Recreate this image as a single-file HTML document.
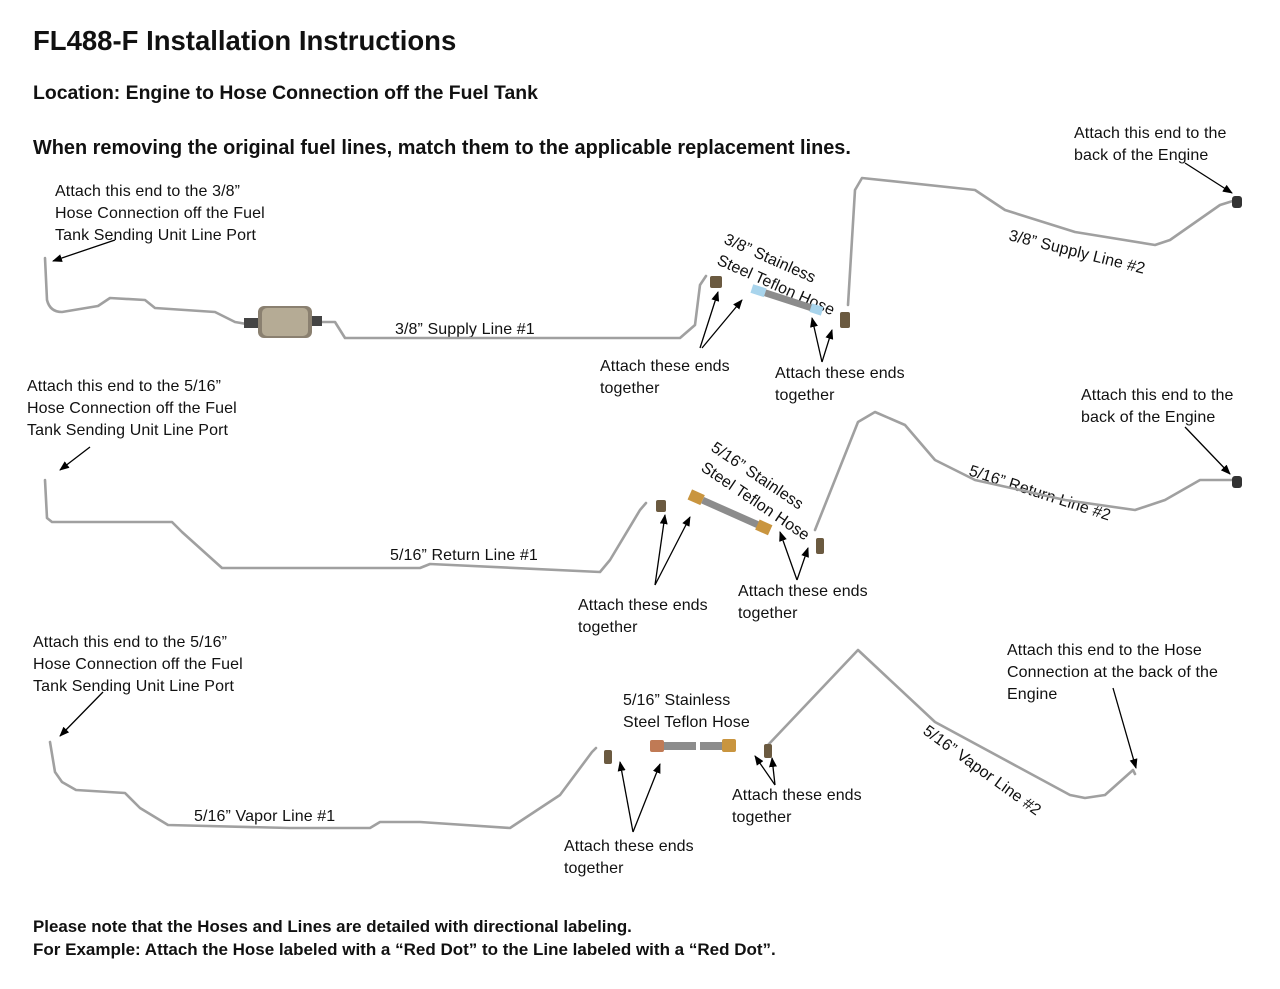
<!DOCTYPE html>
<html><head><meta charset="utf-8"><style>
body{margin:0;background:#fff}
svg{display:block}
text{font-family:"Liberation Sans",sans-serif;fill:#111}
.t{font-size:16px;letter-spacing:0.1px}
.b{font-weight:bold}
.ln{fill:none;stroke:#a0a0a0;stroke-width:2.6;stroke-linejoin:round;stroke-linecap:round}
.ar{stroke:#000;stroke-width:1.3;fill:none;marker-end:url(#a)}
</style></head><body>
<svg width="1280" height="989" viewBox="0 0 1280 989">
<defs><marker id="a" markerWidth="10" markerHeight="8" refX="9" refY="4" orient="auto" markerUnits="userSpaceOnUse"><path d="M0,0L10,4L0,8z" fill="#000"/></marker></defs>
<text x="33" y="50" class="b" font-size="27.5">FL488-F Installation Instructions</text>
<text x="33" y="99" class="b" font-size="19.4">Location: Engine to Hose Connection off the Fuel Tank</text>
<text x="33" y="154" class="b" font-size="19.9">When removing the original fuel lines, match them to the applicable replacement lines.</text>

<g class="t">
<text x="55" y="196">Attach this end to the 3/8”</text>
<text x="55" y="218">Hose Connection off the Fuel</text>
<text x="55" y="240">Tank Sending Unit Line Port</text>
<text x="1074" y="138">Attach this end to the</text>
<text x="1074" y="160">back of the Engine</text>
<text x="395" y="334">3/8” Supply Line #1</text>
<text x="600" y="371">Attach these ends</text>
<text x="600" y="393">together</text>
<text x="775" y="378">Attach these ends</text>
<text x="775" y="400">together</text>
<text transform="translate(723,243) rotate(24)">3/8” Stainless</text>
<text transform="translate(716,264) rotate(24)">Steel Teflon Hose</text>
<text transform="translate(1008,240) rotate(14)">3/8” Supply Line #2</text>
</g>
<path class="ln" d="M45,258 L47,300 Q50,312 62,312 L98,306 L110,298 L145,300 L155,308 L215,312 L235,322 L258,326 M312,322 L335,322 L345,338 L680,338 L695,325 L700,285 L706,276"/>
<rect x="258" y="306" width="54" height="32" rx="6" fill="#8a8070"/>
<rect x="262" y="308" width="46" height="28" rx="5" fill="#b5ab95"/>
<rect x="244" y="318" width="14" height="10" fill="#444"/>
<rect x="312" y="316" width="10" height="10" fill="#444"/>
<rect x="710" y="276" width="12" height="12" rx="2" fill="#6b5a40"/>
<g transform="translate(752,288) rotate(18)"><rect x="0" y="-4" width="14" height="9" fill="#a8d4ec"/><rect x="14" y="-3" width="56" height="7" fill="#8c8c8c"/><rect x="62" y="-4" width="12" height="9" fill="#a8d4ec"/></g>
<path class="ln" d="M848,305 L855,190 L862,178 L975,190 L1005,210 L1075,232 L1155,245 L1170,240 L1220,205 L1236,200"/>
<rect x="840" y="312" width="10" height="16" rx="2" fill="#6b5a40"/>
<rect x="1232" y="196" width="10" height="12" rx="3" fill="#333"/>
<path class="ar" d="M115,240 L53,261"/>
<path class="ar" d="M1185,163 L1232,193"/>
<path class="ar" d="M700,348 L718,292"/>
<path class="ar" d="M702,348 L742,300"/>
<path class="ar" d="M822,362 L812,318"/>
<path class="ar" d="M822,362 L832,330"/>

<g class="t">
<text x="27" y="391">Attach this end to the 5/16”</text>
<text x="27" y="413">Hose Connection off the Fuel</text>
<text x="27" y="435">Tank Sending Unit Line Port</text>
<text x="1081" y="400">Attach this end to the</text>
<text x="1081" y="422">back of the Engine</text>
<text x="390" y="560">5/16” Return Line #1</text>
<text x="578" y="610">Attach these ends</text>
<text x="578" y="632">together</text>
<text x="738" y="596">Attach these ends</text>
<text x="738" y="618">together</text>
<text transform="translate(710,450) rotate(34)">5/16” Stainless</text>
<text transform="translate(700,470) rotate(34)">Steel Teflon Hose</text>
<text transform="translate(968,475) rotate(18)">5/16” Return Line #2</text>
</g>
<path class="ln" d="M45,480 L47,518 L52,522 L172,522 L182,532 L222,568 L420,568 L430,564 L600,572 L610,560 L640,510 L646,503"/>
<rect x="656" y="500" width="10" height="12" rx="2" fill="#6b5a40"/>
<g transform="translate(690,494) rotate(24)"><rect x="0" y="-5" width="14" height="11" fill="#c9953f"/><rect x="14" y="-3" width="62" height="7" fill="#8c8c8c"/><rect x="74" y="-5" width="14" height="11" fill="#c9953f"/></g>
<path class="ln" d="M815,530 L858,422 L875,412 L905,425 L935,460 L975,480 L1065,500 L1135,510 L1165,500 L1200,480 L1232,480"/>
<rect x="816" y="538" width="8" height="16" rx="2" fill="#6b5a40"/>
<rect x="1232" y="476" width="10" height="12" rx="3" fill="#333"/>
<path class="ar" d="M90,447 L60,470"/>
<path class="ar" d="M1185,427 L1230,474"/>
<path class="ar" d="M655,585 L665,515"/>
<path class="ar" d="M655,585 L690,517"/>
<path class="ar" d="M797,580 L780,532"/>
<path class="ar" d="M797,580 L808,548"/>

<g class="t">
<text x="33" y="647">Attach this end to the 5/16”</text>
<text x="33" y="669">Hose Connection off the Fuel</text>
<text x="33" y="691">Tank Sending Unit Line Port</text>
<text x="1007" y="655">Attach this end to the Hose</text>
<text x="1007" y="677">Connection at the back of the</text>
<text x="1007" y="699">Engine</text>
<text x="194" y="821">5/16” Vapor Line #1</text>
<text x="623" y="705">5/16” Stainless</text>
<text x="623" y="727">Steel Teflon Hose</text>
<text x="564" y="851">Attach these ends</text>
<text x="564" y="873">together</text>
<text x="732" y="800">Attach these ends</text>
<text x="732" y="822">together</text>
<text transform="translate(922,733) rotate(36)">5/16” Vapor Line #2</text>
</g>
<path class="ln" d="M50,742 L55,772 L62,782 L76,790 L125,793 L140,808 L168,825 L290,828 L370,828 L380,822 L420,822 L510,828 L560,795 L592,752 L596,748"/>
<rect x="604" y="750" width="8" height="14" rx="2" fill="#6b5a40"/>
<rect x="650" y="740" width="14" height="12" rx="2" fill="#c07a55"/>
<rect x="664" y="742" width="32" height="8" fill="#8c8c8c"/>
<rect x="700" y="742" width="22" height="8" fill="#8c8c8c"/>
<rect x="722" y="739" width="14" height="13" rx="2" fill="#c9953f"/>
<path class="ln" d="M768,745 L858,650 L935,722 L1070,795 L1085,798 L1105,795 L1133,770 L1135,774"/>
<rect x="764" y="744" width="8" height="14" rx="2" fill="#6b5a40"/>
<path class="ar" d="M103,692 L60,736"/>
<path class="ar" d="M1113,688 L1136,768"/>
<path class="ar" d="M633,832 L620,762"/>
<path class="ar" d="M633,832 L660,764"/>
<path class="ar" d="M775,785 L755,756"/>
<path class="ar" d="M775,785 L772,758"/>

<text x="33" y="932" class="b" font-size="16.9">Please note that the Hoses and Lines are detailed with directional labeling.</text>
<text x="33" y="955" class="b" font-size="17">For Example: Attach the Hose labeled with a “Red Dot” to the Line labeled with a “Red Dot”.</text>
</svg>
</body></html>
